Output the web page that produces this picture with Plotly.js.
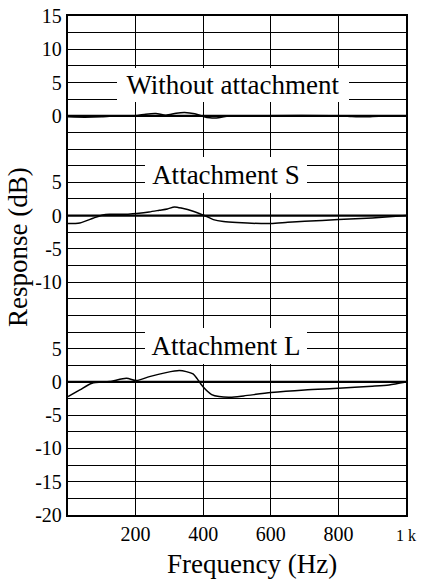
<!DOCTYPE html>
<html>
<head>
<meta charset="utf-8">
<script src="https://cdn.plot.ly/plotly-3.0.1.min.js"></script>
<style>html,body{margin:0;padding:0;background:#fff;font-family:'Liberation Serif';}#chart{width:423px;height:580px;}</style>
</head>
<body>
<div id="chart"></div>
<script>
// Frequency (Hz) and response (dB) for each measurement
var freqWithout = [0, 50, 100, 150, 200, 230, 260, 290, 320, 345, 375, 400, 420, 445, 470, 520, 800, 840, 880, 920, 1000];
var respWithout = [-0.15, -0.2, -0.15, 0, 0, 0.25, 0.35, 0.1, 0.4, 0.5, 0.3, -0.1, -0.3, -0.3, -0.05, 0, 0, -0.1, -0.15, -0.05, 0];

var freqS = [0, 35, 74, 103, 123, 173, 203, 240, 270, 294, 315, 338, 368, 409, 430, 460, 500, 600, 650, 700, 800, 900, 1000];
var respS = [-1.2, -1.1, -0.4, 0.1, 0.2, 0.2, 0.33, 0.55, 0.8, 1.0, 1.3, 1.1, 0.7, -0.1, -0.6, -0.9, -1.05, -1.2, -1.0, -0.85, -0.6, -0.35, 0];

var freqL = [0, 35, 71, 123, 173, 203, 241, 290, 329, 350, 370, 382, 393, 410, 425, 447, 480, 520, 600, 700, 800, 900, 950, 1000];
var respL = [-2.2, -1.2, -0.2, 0.05, 0.55, 0.2, 0.8, 1.4, 1.7, 1.55, 1.2, 0.5, -0.3, -1.3, -1.9, -2.2, -2.3, -2.1, -1.6, -1.2, -0.95, -0.65, -0.45, 0];

// panel names and vertical offsets (dB) on the shared axis
var panelNames = ['Without attachment', 'Attachment S', 'Attachment L'];
var panelOffsets = [0, -15, -40];

// tick labels of each panel
var ticksWithout = [15, 10, 5, 0];
var ticksS = [5, 0, -5, -10];
var ticksL = [5, 0, -5, -10, -15, -20];

var xTickVals = [200, 400, 600, 800, 1000];
var xTickText = ['200', '400', '600', '800', '<span style="font-size:16px">1 k</span>'];

var FONT = 'Liberation Serif';

function shift(arr, off) { return arr.map(function (v) { return v + off; }); }

function draw() {
  var traces = [
    {x: freqWithout, y: shift(respWithout, panelOffsets[0])},
    {x: freqS, y: shift(respS, panelOffsets[1])},
    {x: freqL, y: shift(respL, panelOffsets[2])}
  ].map(function (t) {
    return {x: t.x, y: t.y, type: 'scatter', mode: 'lines',
      line: {color: 'black', width: 1.5, shape: 'spline', smoothing: 0.7},
      hoverinfo: 'skip', showlegend: false};
  });

  // y ticks: gridline every 2.5 dB, labels only at panel values
  var labelMap = {};
  ticksWithout.forEach(function (v) { labelMap[(v + panelOffsets[0]).toFixed(1)] = String(v); });
  ticksS.forEach(function (v) { labelMap[(v + panelOffsets[1]).toFixed(1)] = String(v); });
  ticksL.forEach(function (v) { labelMap[(v + panelOffsets[2]).toFixed(1)] = String(v); });
  var yTickVals = [], yTickText = [];
  for (var v = 15; v >= -60; v -= 2.5) {
    yTickVals.push(v);
    yTickText.push(labelMap[v.toFixed(1)] || '');
  }

  var shapes = panelOffsets.map(function (off) {
    return {type: 'line', xref: 'paper', x0: 0, x1: 1, yref: 'y', y0: off, y1: off,
      line: {color: 'black', width: 2.2}, layer: 'above'};
  });

  var labelPos = [
    {x: 488, y: 4.6, w: 232, h: 34},
    {x: 467, y: -8.9, w: 162, h: 36},
    {x: 467, y: -34.6, w: 162, h: 36}
  ];
  var annotations = panelNames.map(function (name, i) {
    var p = labelPos[i];
    return {text: name, x: p.x, y: p.y, xref: 'x', yref: 'y', showarrow: false,
      xanchor: 'center', yanchor: 'middle', width: p.w, height: p.h,
      bgcolor: 'white', borderpad: 0, borderwidth: 0, font: {family: FONT, size: 27, color: 'black'}};
  });
  annotations.push({text: 'Frequency (Hz)', xref: 'paper', yref: 'paper', x: 0.543, y: -0.098,
    xanchor: 'center', yanchor: 'middle', showarrow: false,
    font: {family: FONT, size: 27, color: 'black'}});
  annotations.push({text: 'Response (dB)', xref: 'paper', yref: 'paper', x: -0.148, y: 0.537,
    xanchor: 'center', yanchor: 'middle', textangle: -90, showarrow: false,
    font: {family: FONT, size: 27, color: 'black'}});

  var layout = {
    width: 423, height: 580,
    margin: {l: 68, r: 17, t: 16, b: 65, pad: 0},
    paper_bgcolor: 'white', plot_bgcolor: 'white',
    font: {family: FONT, size: 20, color: 'black'},
    xaxis: {range: [0, 1000], tickmode: 'array', tickvals: xTickVals, ticktext: xTickText,
      showgrid: true, gridcolor: 'black', gridwidth: 1, zeroline: false,
      showline: true, mirror: true, linecolor: 'black', linewidth: 2.2, ticks: '',
      tickfont: {family: FONT, size: 20, color: 'black'}},
    yaxis: {range: [-60, 15], tickmode: 'array', tickvals: yTickVals, ticktext: yTickText,
      showgrid: true, gridcolor: 'black', gridwidth: 1, zeroline: false,
      showline: true, mirror: true, linecolor: 'black', linewidth: 2.2, ticks: '',
      tickfont: {family: FONT, size: 20, color: 'black'}},
    shapes: shapes,
    annotations: annotations
  };

  Plotly.newPlot('chart', traces, layout, {displayModeBar: false, staticPlot: true});
}

if (document.fonts && document.fonts.load) {
  document.fonts.load('20px "Liberation Serif"').then(draw, draw);
} else {
  draw();
}
</script>
</body>
</html>
